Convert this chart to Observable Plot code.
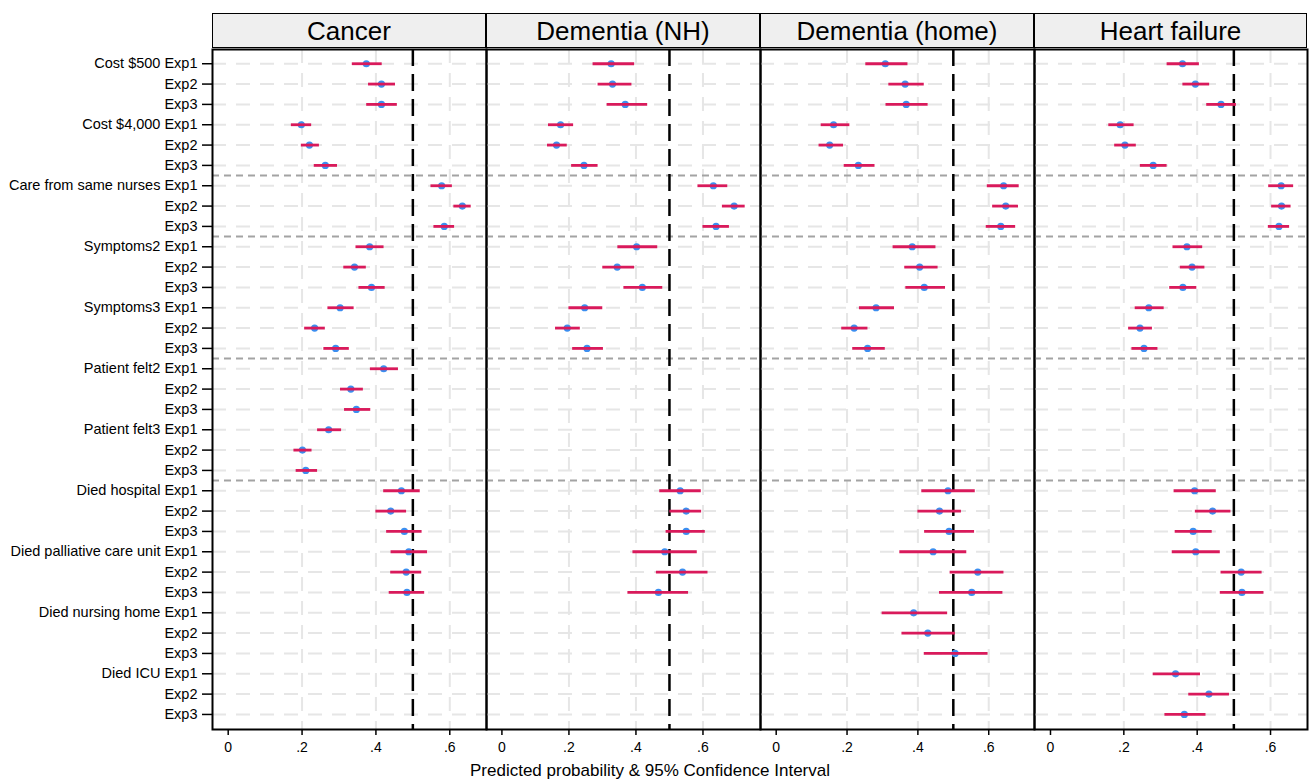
<!DOCTYPE html>
<html>
<head>
<meta charset="utf-8">
<script src="https://cdn.jsdelivr.net/npm/d3@7"></script>
<script src="https://cdn.jsdelivr.net/npm/@observablehq/plot@0.6"></script>
<style>
  body { margin: 0; background: #fff; font-family: 'Liberation Sans', Arial, Helvetica, sans-serif; }
  #chart { position: relative; width: 1309px; height: 779px; overflow: hidden; background: #fff; }
  .hdr { position: absolute; top: 13px; height: 35px; box-sizing: border-box; border: 1.5px solid #000;
         background: #efefef; font-size: 26px; display: flex; align-items: center; justify-content: center;
         padding-top: 1px; color: #000; }
  .panel { position: absolute; top: 47px; }
  .xtitle { position: absolute; left: 0; width: 1300px; top: 762px; text-align: center; font-size: 17px;
            line-height: 17px; color: #000; }
</style>
</head>
<body>
<div id="chart"></div>
<script>
// ---------- data ----------
const rowLabels = ["Cost $500 Exp1","Exp2","Exp3","Cost $4,000 Exp1","Exp2","Exp3",
  "Care from same nurses Exp1","Exp2","Exp3","Symptoms2 Exp1","Exp2","Exp3",
  "Symptoms3 Exp1","Exp2","Exp3","Patient felt2 Exp1","Exp2","Exp3",
  "Patient felt3 Exp1","Exp2","Exp3","Died hospital Exp1","Exp2","Exp3",
  "Died palliative care unit Exp1","Exp2","Exp3","Died nursing home Exp1","Exp2","Exp3",
  "Died ICU Exp1","Exp2","Exp3"];
const rowGroups = ["Cost","Cost","Cost","Cost","Cost","Cost","Care","Care","Care",
  "Symptoms","Symptoms","Symptoms","Symptoms","Symptoms","Symptoms",
  "Felt","Felt","Felt","Felt","Felt","Felt",
  "Died","Died","Died","Died","Died","Died","Died","Died","Died","Died","Died","Died"];
const panelNames = ["Cancer", "Dementia (NH)", "Dementia (home)", "Heart failure"];
const xTicks = [0, 0.2, 0.4, 0.6];
const referenceProb = 0.5;

const cancerEst = [0.374,0.415,0.415,0.198,0.220,0.263,0.578,0.634,0.585,0.383,0.342,0.388,0.303,0.234,0.291,0.421,0.332,0.347,0.272,0.201,0.210,0.469,0.440,0.477,0.489,0.482,0.484,null,null,null,null,null,null];
const cancerLo  = [0.336,0.380,0.375,0.171,0.198,0.233,0.549,0.611,0.557,0.346,0.313,0.354,0.270,0.207,0.259,0.385,0.304,0.315,0.242,0.178,0.184,0.421,0.400,0.429,0.441,0.440,0.436,null,null,null,null,null,null];
const cancerHi  = [0.417,0.453,0.458,0.226,0.247,0.296,0.607,0.658,0.613,0.422,0.374,0.425,0.341,0.263,0.328,0.461,0.366,0.386,0.307,0.227,0.242,0.520,0.483,0.525,0.540,0.524,0.532,null,null,null,null,null,null];

const demNHEst = [0.326,0.330,0.368,0.175,0.163,0.245,0.631,0.693,0.639,0.402,0.344,0.419,0.247,0.195,0.254,null,null,null,null,null,null,0.532,0.550,0.550,0.486,0.539,0.467,null,null,null,null,null,null];
const demNHLo  = [0.272,0.287,0.314,0.139,0.136,0.208,0.585,0.658,0.600,0.346,0.301,0.364,0.200,0.160,0.211,null,null,null,null,null,null,0.471,0.501,0.490,0.391,0.461,0.376,null,null,null,null,null,null];
const demNHHi  = [0.396,0.388,0.435,0.214,0.195,0.287,0.674,0.726,0.679,0.465,0.396,0.480,0.301,0.234,0.303,null,null,null,null,null,null,0.595,0.596,0.607,0.583,0.615,0.557,null,null,null,null,null,null];

const demHomeEst = [0.308,0.364,0.367,0.162,0.151,0.232,0.642,0.648,0.634,0.384,0.405,0.418,0.282,0.220,0.258,null,null,null,null,null,null,0.485,0.461,0.488,0.443,0.569,0.552,0.388,0.428,0.505,null,null,null];
const demHomeLo  = [0.253,0.318,0.310,0.127,0.121,0.192,0.596,0.611,0.593,0.330,0.363,0.366,0.235,0.185,0.216,null,null,null,null,null,null,0.411,0.400,0.419,0.349,0.491,0.461,0.299,0.355,0.418,null,null,null];
const demHomeHi  = [0.372,0.418,0.429,0.208,0.190,0.279,0.686,0.684,0.676,0.451,0.457,0.478,0.334,0.259,0.308,null,null,null,null,null,null,0.562,0.523,0.560,0.538,0.643,0.640,0.484,0.506,0.598,null,null,null];

const heartEst = [0.360,0.395,0.465,0.190,0.203,0.280,0.629,0.630,0.623,0.372,0.386,0.361,0.268,0.244,0.255,null,null,null,null,null,null,0.393,0.442,0.389,0.396,0.520,0.522,null,null,null,0.341,0.432,0.365];
const heartLo  = [0.318,0.361,0.426,0.159,0.175,0.245,0.595,0.603,0.594,0.334,0.354,0.325,0.231,0.213,0.222,null,null,null,null,null,null,0.337,0.395,0.340,0.332,0.465,0.463,null,null,null,0.280,0.377,0.312];
const heartHi  = [0.406,0.434,0.507,0.228,0.234,0.318,0.663,0.656,0.652,0.415,0.421,0.399,0.310,0.278,0.293,null,null,null,null,null,null,0.452,0.492,0.441,0.463,0.577,0.582,null,null,null,0.409,0.488,0.424];

// ---------- layout / style ----------
const series = [
  {est: cancerEst, lo: cancerLo, hi: cancerHi, domain: [-0.0425, 0.6994]},
  {est: demNHEst, lo: demNHLo, hi: demNHHi, domain: [-0.046, 0.7717]},
  {est: demHomeEst, lo: demHomeLo, hi: demHomeHi, domain: [-0.0443, 0.7292]},
  {est: heartEst, lo: heartLo, hi: heartHi, domain: [-0.0436, 0.7008]}
];
const lefts = [212, 486, 760, 1034];
const widths = [274, 274, 274, 273];
const RED = "#d91a5b", BLUE = "#3b8ef0";
const FONT = "'Liberation Sans', Arial, Helvetica, sans-serif";

const rowIdx = rowLabels.map((_, i) => i);
const separators = rowIdx.filter(i => i > 0 && rowGroups[i] !== rowGroups[i - 1]).map(i => i - 0.5);
const fmt = d => d === 0 ? "0" : String(d).replace(/^0/, "");

const chart = document.getElementById("chart");

series.forEach((s, k) => {
  const rows = rowIdx.map(i => ({i, est: s.est[i], lo: s.lo[i], hi: s.hi[i]})).filter(d => d.est != null);

  const hdr = document.createElement("div");
  hdr.className = "hdr";
  hdr.style.left = lefts[k] + "px";
  hdr.style.width = widths[k] + "px";
  hdr.textContent = panelNames[k];
  chart.appendChild(hdr);

  const mL = k === 0 ? lefts[0] : 2;
  const svgLeft = k === 0 ? 0 : lefts[k] - 2;
  const marks = [
    Plot.gridY({ticks: rowIdx, stroke: "#e6e6e6", strokeOpacity: 1, strokeWidth: 2, strokeDasharray: "14,10"}),
    Plot.gridX({ticks: xTicks.filter(t => t > 0), stroke: "#e6e6e6", strokeOpacity: 1, strokeWidth: 2, strokeDasharray: "14,10"}),
    Plot.ruleY(separators, {stroke: "#a3a3a3", strokeWidth: 2, strokeDasharray: "7,5"}),
    Plot.ruleX([referenceProb], {stroke: "#000", strokeWidth: 2.5, strokeDasharray: "17,8"}),
    Plot.dot(rows, {x: "est", y: "i", r: 3.6, fill: BLUE, stroke: "none"}),
    Plot.ruleY(rows, {y: "i", x1: "lo", x2: "hi", stroke: RED, strokeWidth: 2.8}),
    Plot.frame({stroke: "#000", strokeWidth: 2}),
    Plot.axisX({ticks: xTicks, tickFormat: fmt, tickSize: 6, tickPadding: 7, fontSize: 14, label: null, strokeWidth: 1.5})
  ];
  if (k === 0) {
    marks.push(Plot.axisY({ticks: rowIdx, tickFormat: i => rowLabels[i], tickSize: 10, tickPadding: 5,
      fontSize: 14.5, label: null, strokeWidth: 1.5}));
  }
  const plot = Plot.plot({
    width: mL + widths[k] + 2,
    height: 732,
    marginLeft: mL, marginRight: 2, marginTop: 2, marginBottom: 50,
    x: {domain: s.domain, axis: null},
    y: {domain: [-0.70, 32.74], reverse: true, axis: null},
    style: {fontFamily: FONT, fontSize: "14px", background: "transparent", color: "#000", overflow: "visible"},
    marks
  });
  plot.classList.add("panel");
  plot.style.position = "absolute";
  plot.style.left = svgLeft + "px";
  plot.style.top = "47px";
  plot.style.maxWidth = "none";
  chart.appendChild(plot);
});

const xt = document.createElement("div");
xt.className = "xtitle";
xt.textContent = "Predicted probability & 95% Confidence Interval";
chart.appendChild(xt);
</script>
</body>
</html>
